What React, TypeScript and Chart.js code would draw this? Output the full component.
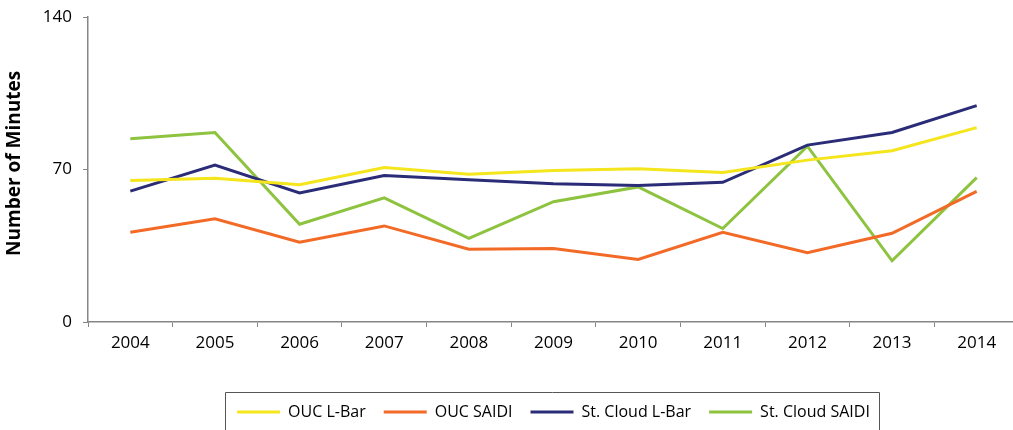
import React, { useEffect, useRef } from "react";
import { Chart, registerables } from "chart.js";

Chart.register(...registerables);

const years = ["2004", "2005", "2006", "2007", "2008", "2009", "2010", "2011", "2012", "2013", "2014"];
const oucLBar = [65.0, 66.0, 63.0, 70.9, 67.8, 69.5, 70.3, 68.6, 74.3, 78.6, 89.2];
const oucSaidi = [41.2, 47.4, 36.6, 44.1, 33.4, 33.7, 28.7, 41.2, 31.8, 40.7, 60.0];
const stCloudLBar = [60.1, 72.0, 59.2, 67.2, 65.3, 63.5, 62.6, 64.1, 81.2, 87.0, 99.3];
const stCloudSaidi = [84.1, 87.0, 44.9, 57.0, 38.4, 55.2, 62.0, 42.9, 80.7, 28.1, 66.3];
const seriesNames = ["OUC L-Bar", "OUC SAIDI", "St. Cloud L-Bar", "St. Cloud SAIDI"];
const yTicks = [0, 70, 140];
const yTitle = "Number of Minutes";

const FONT = "'Open Sans', 'Noto Sans', sans-serif";
const AXIS = "#868686";

const legendBox = {
  id: "legendBox",
  afterDraw(chart: any) {
    const lg = chart.legend;
    if (!lg || !lg.legendHitBoxes || !lg.legendHitBoxes.length) return;
    const hb = lg.legendHitBoxes;
    const first = hb[0];
    const last = hb[hb.length - 1];
    const x1 = first.left - 12;
    const x2 = last.left + last.width + 9;
    const y1 = lg.top + 6;
    const ctx = chart.ctx;
    ctx.save();
    ctx.strokeStyle = "#555";
    ctx.lineWidth = 1;
    ctx.beginPath();
    ctx.moveTo(Math.round(x1) + 0.5, chart.height + 5);
    ctx.lineTo(Math.round(x1) + 0.5, Math.round(y1) + 0.5);
    ctx.lineTo(Math.round(x2) + 0.5, Math.round(y1) + 0.5);
    ctx.lineTo(Math.round(x2) + 0.5, chart.height + 5);
    ctx.stroke();
    ctx.restore();
  },
};

const yTitlePlugin = {
  id: "yTitlePlugin",
  afterDraw(chart: any) {
    const a = chart.chartArea;
    const ctx = chart.ctx;
    ctx.save();
    ctx.translate(a.left - 73, a.top + (a.bottom - a.top) * 0.48);
    ctx.rotate(-Math.PI / 2);
    ctx.font = `bold 19px ${FONT}`;
    ctx.fillStyle = "#000";
    ctx.textAlign = "center";
    ctx.textBaseline = "middle";
    ctx.fillText(yTitle, 0, 0);
    ctx.restore();
  },
};

export default function App() {
  const ref = useRef<HTMLCanvasElement | null>(null);
  useEffect(() => {
    if (!ref.current) return;
    const mk = (label: string, data: number[], color: string) => ({
      label,
      data,
      borderColor: color,
      backgroundColor: color,
      borderWidth: 3,
      pointRadius: 0,
      tension: 0,
      fill: false,
    });
    const chart = new Chart(ref.current, {
      type: "line",
      data: {
        labels: years,
        datasets: [
          mk(seriesNames[0], oucLBar, "#F4E51C"),
          mk(seriesNames[1], oucSaidi, "#F26A26"),
          mk(seriesNames[2], stCloudLBar, "#2A2C78"),
          mk(seriesNames[3], stCloudSaidi, "#8DC33E"),
        ],
      },
      options: {
        animation: false,
        responsive: false,
        devicePixelRatio: 1,
        layout: { padding: { top: 17, right: 1, bottom: 0, left: 0 } },
        plugins: {
          tooltip: { enabled: false },
          legend: {
            position: "bottom",
            fullSize: false,
            labels: {
              usePointStyle: true,
              pointStyle: "line",
              pointStyleWidth: 43,
              boxHeight: 3,
              padding: 18,
              color: "#000",
              font: { family: FONT, size: 16 },
            },
          },
        },
        scales: {
          x: {
            type: "category",
            offset: true,
            afterFit(scale: any) {
              scale.height = 64;
              scale.paddingLeft = 0;
              scale.paddingRight = 0;
            },
            grid: {
              display: true,
              drawOnChartArea: false,
              drawTicks: true,
              tickLength: 5,
              offset: true,
              color: AXIS,
            },
            border: { display: true, color: AXIS, width: 1.5 },
            ticks: {
              color: "#000",
              padding: 6,
              maxRotation: 0,
              font: { family: FONT, size: 17 },
            },
          },
          y: {
            min: 0,
            max: 140,
            afterFit(scale: any) {
              scale.width = 88;
              scale.paddingTop = 0;
              scale.paddingBottom = 0;
            },
            afterBuildTicks(scale: any) {
              scale.ticks = yTicks.map((v) => ({ value: v }));
            },
            grid: {
              display: true,
              drawOnChartArea: false,
              drawTicks: true,
              tickLength: 5,
              color: AXIS,
            },
            border: { display: true, color: AXIS, width: 1.5 },
            ticks: {
              color: "#000",
              padding: 11,
              font: { family: FONT, size: 17 },
            },
          },
        },
      },
      plugins: [legendBox, yTitlePlugin],
    } as any);
    return () => chart.destroy();
  }, []);

  return (
    <div
      style={{
        position: "fixed",
        left: 0,
        top: 0,
        width: 1013,
        height: 430,
        overflow: "hidden",
        background: "#fff",
      }}
    >
      <canvas ref={ref} width={1020} height={430} style={{ display: "block", width: 1020, height: 430 }} />
    </div>
  );
}
